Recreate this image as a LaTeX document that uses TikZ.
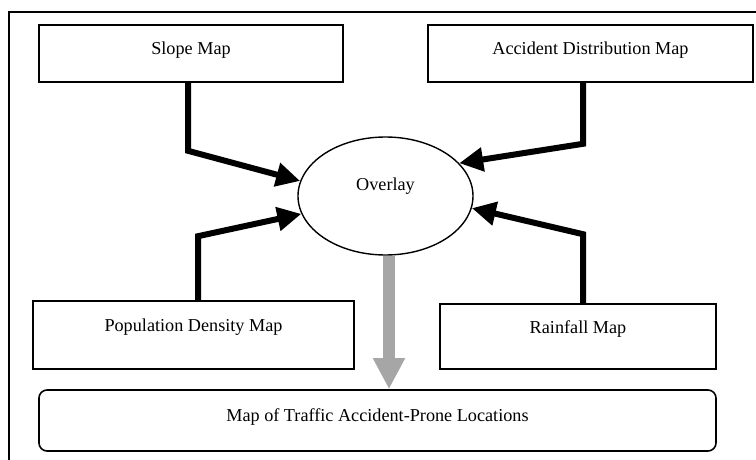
\documentclass[tikz,border=0pt]{standalone}
\usepackage{fontspec}
\setmainfont{Liberation Serif}
\usetikzlibrary{arrows.meta,shapes.geometric}

\begin{document}
\begin{tikzpicture}[x=0.5pt,y=-0.5pt,
	mapbox/.style={draw, line width=0.8pt, minimum height=28.5pt, inner sep=0pt,
		text height=6.4pt, font=\fontsize{9.1}{11}\selectfont},
	thickarrow/.style={line width=3pt, -{Triangle[length=12pt,width=11.5pt]}},
	grayarrow/.style={line width=6pt, color=black!35, -{Triangle[length=15.5pt,width=15pt]}}]
			\useasboundingbox (0,0) rectangle (756,460);
			\draw [line width=0.8pt] (9,460) -- (9,12) -- (756,12);

			% input maps
			\node[mapbox, minimum width=152pt, text depth=4.9pt] (slope) at (191,53.5) {Slope Map};
			\node[mapbox, minimum width=162.5pt, text depth=4.9pt] (accident) at (590.5,53.5) {Accident Distribution Map};
			\node[mapbox, minimum width=160.5pt, minimum height=34pt, text depth=10.4pt] (population) at (193.5,335) {Population Density Map};
			\node[mapbox, minimum width=138pt, minimum height=32.5pt, text depth=9.9pt] (rainfall) at (578,336.5) {Rainfall Map};

			% overlay and result
			\node[mapbox, ellipse, line width=0.7pt, minimum width=87.5pt, minimum height=59pt, text depth=11.4pt] (ovl) at (385.5,196) {Overlay\hspace{15.5pt}};
			\node[mapbox, rounded corners=4pt, minimum width=338.5pt, minimum height=30.5pt, text depth=5.9pt] (res) at (377.5,420.5) {Map of Traffic Accident-Prone Locations};

			% arrows
			\draw [thickarrow] ([xshift=-1.5pt]slope.south) -- ++(0,68) -- (ovl.170);
			\draw [thickarrow] ([xshift=-3.75pt]accident.south) -- ++(0,61) -- (ovl.24);
			\draw [thickarrow] ([xshift=2.25pt]population.north) -- ++(0,-64) -- (ovl.192);
			\draw [thickarrow] ([xshift=2.5pt]rainfall.north) -- ++(0,-69) -- (ovl.352);
			\draw [grayarrow] ([xshift=1.75pt]ovl.south) -- ([xshift=1.75pt]ovl.south |- res.north);
		\end{tikzpicture}
\end{document}
